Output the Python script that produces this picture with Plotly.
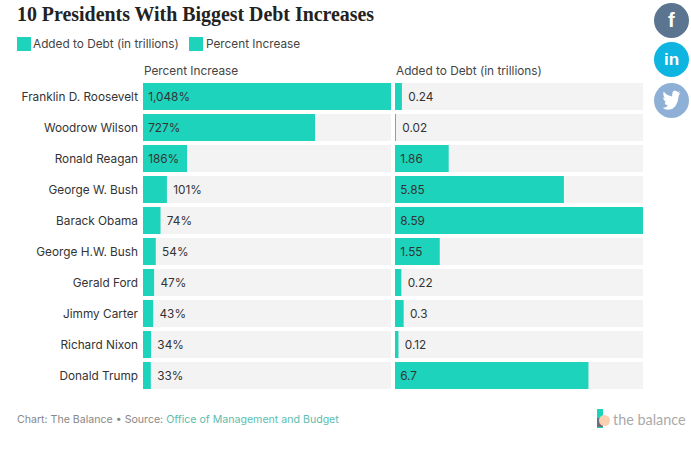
import plotly.graph_objects as go

presidents = ["Franklin D. Roosevelt", "Woodrow Wilson", "Ronald Reagan", "George W. Bush", "Barack Obama",
              "George H.W. Bush", "Gerald Ford", "Jimmy Carter", "Richard Nixon", "Donald Trump"]
percent_increase = [1048, 727, 186, 101, 74, 54, 47, 43, 34, 33]
percent_labels = ["1,048%", "727%", "186%", "101%", "74%", "54%", "47%", "43%", "34%", "33%"]
added_to_debt = [0.24, 0.02, 1.86, 5.85, 8.59, 1.55, 0.22, 0.3, 0.12, 6.7]
added_labels = ["0.24", "0.02", "1.86", "5.85", "8.59", "1.55", "0.22", "0.3", "0.12", "6.7"]
percent_pos = ["inside", "inside", "inside", "outside", "outside", "outside", "outside", "outside", "outside", "outside"]
added_pos = ["outside", "outside", "inside", "inside", "inside", "inside", "outside", "outside", "outside", "inside"]

W, H = 691, 470
TEAL = "#1DD3BB"
BACK = "#F3F3F3"
TEXT = "#333333"
FONT = "Inter"
BIRD = [(24, 4.6), (21.1, 5.35), (23.3, 2.6), (20.2, 3.8), (18.5, 2.5), (16.4, 2), (13.9, 3.1), (12.9, 5.5), (13, 6.6),
        (12.6, 8.1), (7.5, 6.8), (3.8, 5), (1.64, 3.16), (1, 5.6), (1.6, 7.9), (3.2, 9.7), (0.9, 9.1), (1.6, 11.6),
        (4.9, 14), (2.7, 14.1), (4, 16.3), (7.3, 17.5), (4.5, 19.1), (1.2, 19.6), (0, 19.6), (3.5, 21.2), (7.5, 21.8),
        (13, 20.8), (17.3, 17.8), (20.2, 13.3), (21.5, 8.2), (21.5, 7.5)]


def px(x):
    return x / W


def py(y):
    return 1 - y / H


def text(x, y, s, size=11.8, color=TEXT, anchor="left", family=FONT, **kw):
    return dict(x=px(x - 2 if anchor == "left" else x), y=py(y), xref="paper", yref="paper", text=s, showarrow=False,
                xanchor=anchor, yanchor="middle", font=dict(size=size, color=color, family=family), **kw)


def box(x0, y0, x1, y1, color, kind="rect"):
    return dict(type=kind, xref="paper", yref="paper", x0=px(x0), x1=px(x1), y0=py(y0), y1=py(y1),
                fillcolor=color, line=dict(width=0), layer="above")


def padded(labels, positions):
    return [("\u2009" if p == "inside" else "\u00a0") + s for s, p in zip(labels, positions)]


fig = go.Figure()
max_pct, max_add = max(percent_increase), max(added_to_debt)
for axis, values, labels, pos, top, name in [
    ("x", percent_increase, percent_labels, percent_pos, max_pct, "Percent Increase"),
    ("x2", added_to_debt, added_labels, added_pos, max_add, "Added to Debt (in trillions)"),
]:
    fig.add_bar(y=presidents, x=[top] * len(values), orientation="h", marker=dict(color=BACK, line_width=0),
                xaxis=axis, yaxis="y", hoverinfo="skip", showlegend=False)
    fig.add_bar(y=presidents, x=values, orientation="h", marker=dict(color=TEAL, line_width=0), xaxis=axis, yaxis="y",
                name=name, text=padded(labels, pos), textposition=pos, insidetextanchor="start",
                cliponaxis=False, textfont=dict(size=11.8, color=TEXT, family=FONT), constraintext="none",
                showlegend=False)

shapes = [box(17, 37, 31, 51, TEAL), box(189, 37, 203, 51, TEAL),
          box(654, 3, 689, 38, "#5B7590", "circle"), box(654, 42, 689, 77, "#0DB5E0", "circle"),
          box(654, 83, 689, 118, "#8FB0D6", "circle"),
          box(597, 409, 603, 428, TEAL), box(597, 418, 603, 427, "#6E6E78"),
          box(599, 415, 610, 426, "#FBD0B0", "circle")]
path = "M" + "L".join(f"{px(662.5 + a * 0.75)},{py(88.5 + b * 0.98)}" for a, b in BIRD) + "Z"
shapes.append(dict(type="path", xref="paper", yref="paper", path=path, fillcolor="white", line=dict(width=0), layer="above"))

annotations = [
    text(17, 14, "<b>10 Presidents With Biggest Debt Increases</b>", size=19.9, color="#222222", family="Liberation Serif"),
    text(33, 44, "Added to Debt (in trillions)", color="#444444"),
    text(206, 44, "Percent Increase", color="#444444"),
    text(144, 71, "Percent Increase", color="#444444"),
    text(396, 71, "Added to Debt (in trillions)", color="#444444"),
    text(17, 419, 'Chart: The Balance • Source: <span style="color:#5CBDB0">Office of Management and Budget</span>',
         size=10.6, color="#888888"),
    text(613, 419, "the balance", size=14.4, color="#AAAAAA", family="Lato"),
    text(671.5, 20.5, "<b>f</b>", size=20, color="white", anchor="center", family="Liberation Sans"),
    text(671.5, 60, "<b>in</b>", size=17, color="white", anchor="center", family="Liberation Sans"),
]

fig.update_layout(
    width=W, height=H, margin=dict(l=0, r=0, t=0, b=0), paper_bgcolor="white", plot_bgcolor="white",
    barmode="overlay", bargap=4 / 31, showlegend=False, shapes=shapes, annotations=annotations,
    font=dict(family=FONT, size=11.8, color=TEXT),
    xaxis=dict(domain=[px(143), px(391)], range=[0, max_pct], visible=False, fixedrange=True),
    xaxis2=dict(domain=[px(395), px(643)], range=[0, max_add], visible=False, fixedrange=True),
    yaxis=dict(domain=[py(391), py(81)], autorange="reversed", ticks="", showgrid=False, showline=False, zeroline=False,
               anchor="x", tickfont=dict(size=11.8, color=TEXT, family=FONT), ticklabelstandoff=4, fixedrange=True),
)
fig.write_html("out.html", config=dict(displayModeBar=False),
               post_script="document.body.style.margin='0';")
